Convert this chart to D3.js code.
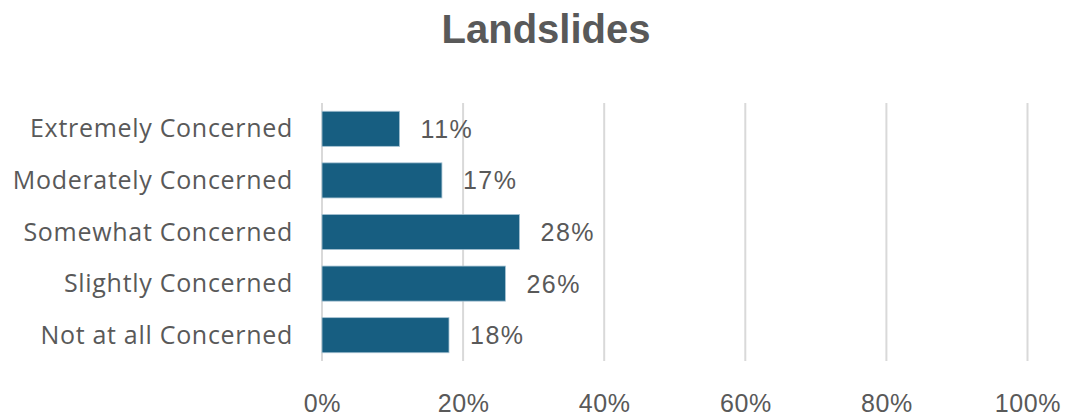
<!DOCTYPE html>
<html>
<head>
<meta charset="utf-8">
<script src="https://cdn.jsdelivr.net/npm/d3@7"></script>
<style>
  html, body { margin: 0; padding: 0; background: #ffffff; }
  svg { display: block; }
</style>
</head>
<body>
<svg id="chart" width="1068" height="417"></svg>
<script>
// Survey responses: level of concern about landslides
const title = "Landslides";
const categories = [
  "Extremely Concerned",
  "Moderately Concerned",
  "Somewhat Concerned",
  "Slightly Concerned",
  "Not at all Concerned"
];
const shares = [0.11, 0.17, 0.28, 0.26, 0.18];
const tickValues = [0, 0.2, 0.4, 0.6, 0.8, 1.0];

const svg = d3.select("#chart");
const textColor = "#595959";
const font = "'Liberation Sans', Arial, sans-serif";

const plot = { left: 322, right: 1027.5, top: 103, bottom: 361 };

const x = d3.scaleLinear().domain([0, 1]).range([plot.left, plot.right]);
const y = d3.scaleBand()
  .domain(categories)
  .range([plot.top, plot.bottom])
  .paddingInner(0.32)
  .paddingOuter(0.16);

// Title
svg.append("text")
  .attr("x", 546)
  .attr("y", 43)
  .attr("text-anchor", "middle")
  .attr("font-family", font)
  .attr("font-weight", "bold")
  .attr("font-size", 40)
  .attr("fill", textColor)
  .text(title);

// Vertical gridlines
svg.append("g")
  .selectAll("line")
  .data(tickValues)
  .join("line")
  .attr("x1", d => x(d))
  .attr("x2", d => x(d))
  .attr("y1", plot.top)
  .attr("y2", plot.bottom)
  .attr("stroke", "#d9d9d9")
  .attr("stroke-width", 2);

// Bottom axis labels
const xAxis = d3.axisBottom(x)
  .tickValues(tickValues)
  .tickFormat(d3.format(".0%"))
  .tickSize(0)
  .tickPadding(0);

const gx = svg.append("g")
  .attr("transform", `translate(0, ${plot.bottom})`)
  .call(xAxis);
gx.select(".domain").remove();
gx.selectAll("text")
  .attr("dy", null)
  .attr("y", 51)
  .attr("font-family", font)
  .attr("font-size", 25)
  .attr("letter-spacing", 0.6)
  .attr("fill", textColor);

// Category labels on the left
const yAxis = d3.axisLeft(y).tickSize(0).tickPadding(0);
const gy = svg.append("g")
  .attr("transform", `translate(${plot.left - 29}, 0)`)
  .call(yAxis);
gy.select(".domain").remove();
gy.selectAll("text")
  .attr("dy", null)
  .attr("y", 8.5)
  .attr("font-family", "'Open Sans', sans-serif")
  .attr("font-size", 25)
  .attr("letter-spacing", 0.7)
  .attr("fill", textColor);

// Bars
const rows = categories.map((c, i) => ({ category: c, value: shares[i] }));

svg.append("g")
  .selectAll("rect")
  .data(rows)
  .join("rect")
  .attr("x", x(0))
  .attr("y", d => y(d.category))
  .attr("width", d => x(d.value) - x(0))
  .attr("height", y.bandwidth())
  .attr("fill", "#175e81")
  .attr("stroke", "#a7c3d3")
  .attr("stroke-width", 0.8);

// Value labels
svg.append("g")
  .selectAll("text")
  .data(rows)
  .join("text")
  .attr("x", d => x(d.value) + 21)
  .attr("y", d => y(d.category) + y.bandwidth() / 2 + 9)
  .attr("font-family", font)
  .attr("font-size", 25)
  .attr("letter-spacing", 1.5)
  .attr("fill", textColor)
  .text(d => d3.format(".0%")(d.value));
</script>
</body>
</html>
